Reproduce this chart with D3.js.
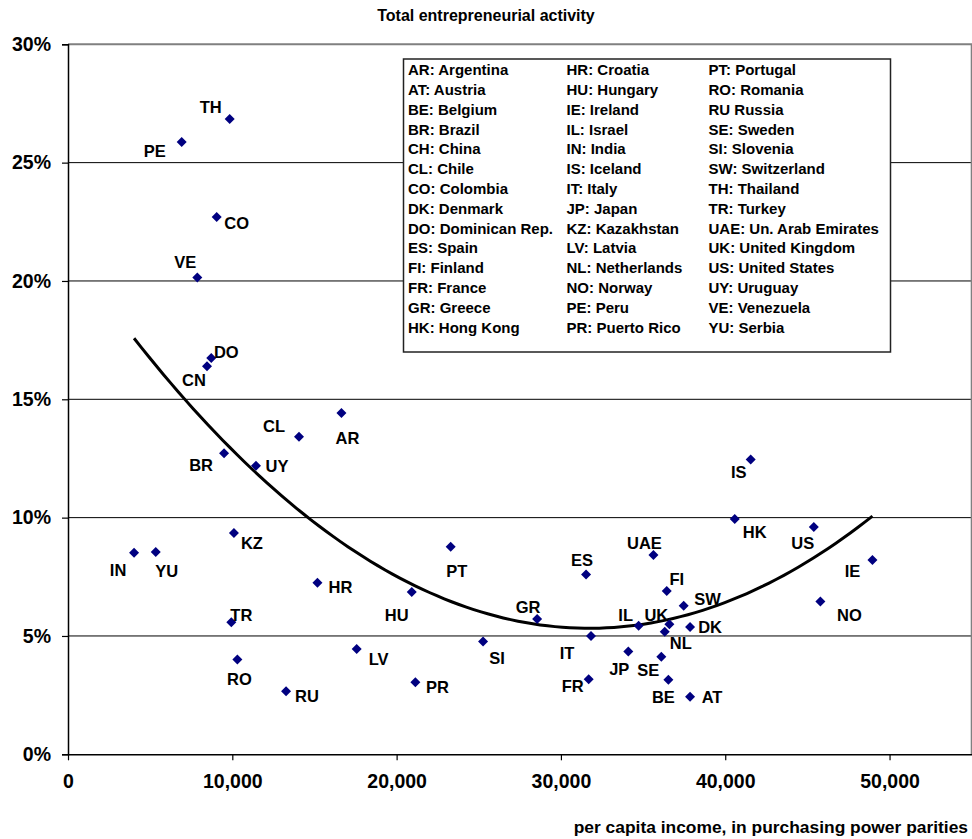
<!DOCTYPE html>
<html lang="en">
<head>
  <meta charset="UTF-8">
  <title>Total entrepreneurial activity</title>
  <script src="https://d3js.org/d3.v7.min.js"></script>
  <style>
    body {
      margin: 0;
      font-family: Arial, 'Liberation Sans', sans-serif;
      background: white;
    }
    text {
      font-weight: bold;
      fill: #000;
    }
    .tick-label { font-size: 19.5px; }
    .point-label { font-size: 16.5px; }
    .legend-text { font-size: 15px; }
  </style>
</head>
<body>
  <svg id="chart" width="972" height="839"></svg>

  <script>
    // country codes as printed next to each point
    const codes = ["TH", "PE", "CO", "VE", "DO", "CN", "CL", "AR", "BR", "UY",
                   "KZ", "IN", "YU", "PT", "HR", "HU", "TR", "RO", "RU", "LV",
                   "PR", "SI", "IS", "HK", "US", "IE", "NO", "UAE", "ES", "FI",
                   "SW", "GR", "IL", "UK", "DK", "NL", "IT", "JP", "SE", "FR",
                   "BE", "AT"];
    // per capita income (PPP)
    const income = [9840, 6920, 9050, 7870, 8720, 8460, 14060, 16640, 9500, 11440,
                    10100, 4020, 5340, 23290, 15180, 20920, 9940, 10310, 13270, 17570,
                    21140, 25260, 41550, 40580, 45390, 48960, 45790, 35630, 31530, 36440,
                    37470, 28550, 34730, 36600, 37860, 36320, 31830, 34100, 36110, 31690,
                    36540, 37860];
    // total entrepreneurial activity, %
    const tea = [26.84, 25.87, 22.70, 20.15, 16.74, 16.40, 13.42, 14.42, 12.72, 12.19,
                 9.35, 8.52, 8.55, 8.77, 7.25, 6.86, 5.58, 4.01, 2.66, 4.45,
                 3.04, 4.77, 12.46, 9.94, 9.60, 8.21, 6.46, 8.42, 7.60, 6.90,
                 6.28, 5.72, 5.43, 5.50, 5.38, 5.18, 5.00, 4.34, 4.12, 3.17,
                 3.15, 2.43];

    const xTicks = [0, 10000, 20000, 30000, 40000, 50000];
    const yTicks = [0, 5, 10, 15, 20, 25, 30];

    const legendEntries = [
      "AR: Argentina", "AT: Austria", "BE: Belgium", "BR: Brazil", "CH: China",
      "CL: Chile", "CO: Colombia", "DK: Denmark", "DO: Dominican Rep.", "ES: Spain",
      "FI: Finland", "FR: France", "GR: Greece", "HK: Hong Kong",
      "HR: Croatia", "HU: Hungary", "IE: Ireland", "IL: Israel", "IN: India",
      "IS: Iceland", "IT: Italy", "JP: Japan", "KZ: Kazakhstan", "LV: Latvia",
      "NL: Netherlands", "NO: Norway", "PE: Peru", "PR: Puerto Rico",
      "PT: Portugal", "RO: Romania", "RU Russia", "SE: Sweden", "SI: Slovenia",
      "SW: Switzerland", "TH: Thailand", "TR: Turkey", "UAE: Un. Arab Emirates",
      "UK: United Kingdom", "US: United States", "UY: Uruguay", "VE: Venezuela",
      "YU: Serbia"
    ];

    // where each label sits relative to its marker (label centre, px)
    const labelOffset = {
      TH: [-19, -12], PE: [-27, 9], CO: [20, 6], VE: [-12, -15], DO: [15, -6],
      CN: [-13, 14], CL: [-25, -10], AR: [6, 25], BR: [-23, 12], UY: [21, 0],
      KZ: [18, 10], IN: [-16, 18], YU: [11, 19], PT: [6, 24], HR: [23, 5],
      HU: [-15, 23], TR: [10, -7], RO: [2, 20], RU: [21, 5], LV: [22, 10],
      PR: [22, 5], SI: [14, 17], IS: [-12, 13], HK: [20, 13], US: [-11, 16],
      IE: [-20, 11], NO: [29, 14], UAE: [-9, -12], ES: [-4, -14], FI: [10, -12],
      SW: [24, -6], GR: [-9, -12], IL: [-13, -11], UK: [-13, -9], DK: [20, 0],
      NL: [16, 12], IT: [-24, 17], JP: [-9, 18], SE: [-13, 13], FR: [-16, 7],
      BE: [-5, 17], AT: [22, 0]
    };

    const data = codes.map((c, i) => ({ code: c, x: income[i], y: tea[i] }));

    const svg = d3.select("#chart");

    const plotL = 68, plotR = 971.7, plotT = 44.3, plotB = 754.3;

    const x = d3.scaleLinear().domain([0, 55000]).range([plotL, plotR]);
    const y = d3.scaleLinear().domain([0, 30]).range([plotB, plotT]);

    // title
    svg.append("text")
      .attr("x", 486)
      .attr("y", 21)
      .attr("text-anchor", "middle")
      .style("font-size", "16px")
      .text("Total entrepreneurial activity");

    // horizontal gridlines
    svg.append("g")
      .selectAll("line")
      .data(yTicks.filter(t => t > 0 && t < 30))
      .enter()
      .append("line")
      .attr("x1", plotL)
      .attr("x2", plotR)
      .attr("y1", d => y(d))
      .attr("y2", d => y(d))
      .attr("stroke", "#000")
      .attr("stroke-width", 1);

    // plot area border (top and right), grey
    svg.append("path")
      .attr("d", `M${plotL},${y(30)}H${plotR}V${plotB}`)
      .attr("fill", "none")
      .attr("stroke", "#808080")
      .attr("stroke-width", 2);

    // y axis
    const yAxis = svg.append("g")
      .attr("transform", `translate(${plotL},0)`)
      .call(d3.axisLeft(y).tickValues(yTicks).tickSize(6).tickPadding(11)
        .tickFormat(d => d + "%"));
    yAxis.select(".domain").attr("stroke", "#000").attr("stroke-width", 1.5);
    yAxis.selectAll(".tick line").attr("stroke", "#000").attr("stroke-width", 1.2);
    yAxis.selectAll("text").attr("class", "tick-label");
    yAxis.attr("font-family", null).attr("font-size", null);

    // x axis
    const xAxis = svg.append("g")
      .attr("transform", `translate(0,${plotB})`)
      .call(d3.axisBottom(x).tickValues(xTicks).tickSize(6).tickPadding(14)
        .tickSizeOuter(0).tickFormat(d3.format(",")));
    xAxis.select(".domain").attr("stroke", "#000").attr("stroke-width", 1.5);
    xAxis.selectAll(".tick line").attr("stroke", "#000").attr("stroke-width", 1.2);
    xAxis.selectAll("text").attr("class", "tick-label");
    xAxis.attr("font-family", null).attr("font-size", null);

    svg.append("text")
      .attr("x", 968)
      .attr("y", 833)
      .attr("text-anchor", "end")
      .style("font-size", "17.4px")
      .text("per capita income, in purchasing power parities");

    // legend box
    const legend = svg.append("g");
    legend.append("rect")
      .attr("x", 403.5)
      .attr("y", 59)
      .attr("width", 487)
      .attr("height", 293)
      .attr("fill", "white")
      .attr("stroke", "#222")
      .attr("stroke-width", 1.5);

    const colX = [408, 566.5, 708.5];
    legend.selectAll(".legend-text")
      .data(legendEntries)
      .enter()
      .append("text")
      .attr("class", "legend-text")
      .attr("x", (d, i) => colX[Math.floor(i / 14)])
      .attr("y", (d, i) => 70 + (i % 14) * 19.8)
      .attr("dy", "0.35em")
      .text(d => d);

    // quadratic trend line, least squares on the data
    const n = data.length;
    const s = k => d3.sum(data, d => Math.pow(d.x / 10000, k));
    const sy = k => d3.sum(data, d => Math.pow(d.x / 10000, k) * d.y);
    const A = [[n, s(1), s(2)], [s(1), s(2), s(3)], [s(2), s(3), s(4)]];
    const B = [sy(0), sy(1), sy(2)];
    function solve3(M, v) {
      const det = m => m[0][0] * (m[1][1] * m[2][2] - m[1][2] * m[2][1])
                     - m[0][1] * (m[1][0] * m[2][2] - m[1][2] * m[2][0])
                     + m[0][2] * (m[1][0] * m[2][1] - m[1][1] * m[2][0]);
      const D = det(M);
      return [0, 1, 2].map(c => det(M.map((row, r) => row.map((val, j) => j === c ? v[r] : val))) / D);
    }
    const coef = solve3(A, B);
    const fit = xv => coef[0] + coef[1] * (xv / 10000) + coef[2] * Math.pow(xv / 10000, 2);
    const xExt = d3.extent(data, d => d.x);
    const curvePts = d3.range(0, 101).map(i => xExt[0] + (xExt[1] - xExt[0]) * i / 100);

    svg.append("path")
      .datum(curvePts)
      .attr("fill", "none")
      .attr("stroke", "#000")
      .attr("stroke-width", 3)
      .attr("d", d3.line().x(d => x(d)).y(d => y(fit(d))));

    // markers
    const diamond = d3.symbol().type(d3.symbolSquare).size(50);
    svg.append("g")
      .selectAll("path")
      .data(data)
      .enter()
      .append("path")
      .attr("d", diamond)
      .attr("transform", d => `translate(${x(d.x)},${y(d.y)}) rotate(45)`)
      .attr("fill", "#000080");

    // point labels
    svg.append("g")
      .selectAll("text")
      .data(data)
      .enter()
      .append("text")
      .attr("class", "point-label")
      .attr("x", d => x(d.x) + labelOffset[d.code][0])
      .attr("y", d => y(d.y) + labelOffset[d.code][1])
      .attr("dy", "0.35em")
      .attr("text-anchor", "middle")
      .text(d => d.code);
  </script>
</body>
</html>
